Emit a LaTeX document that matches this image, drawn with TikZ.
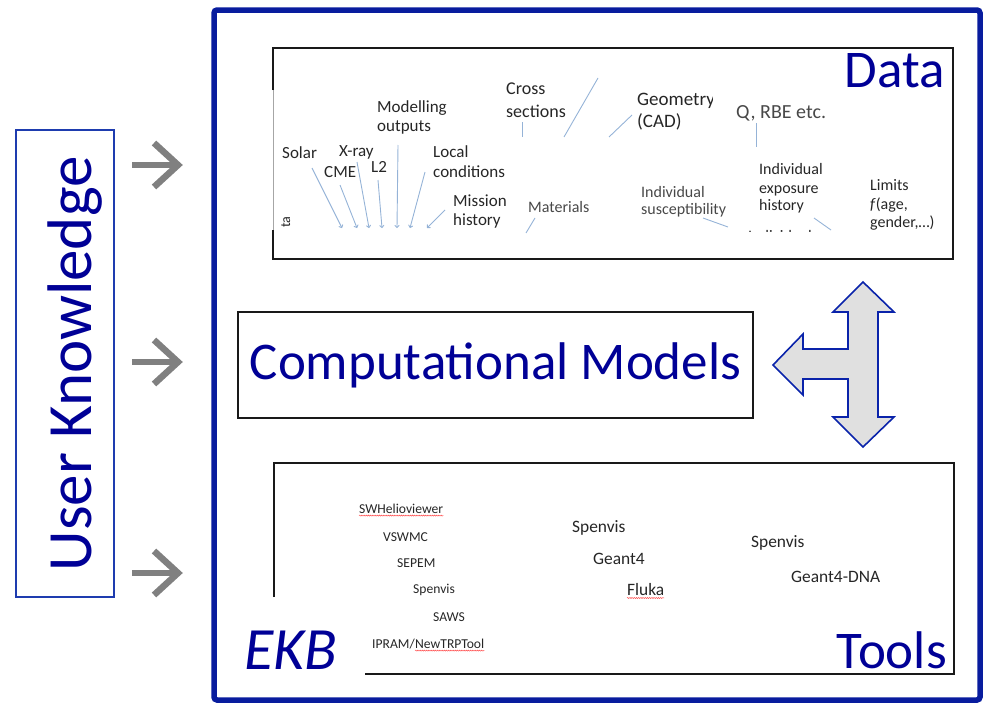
\documentclass[tikz,border=0pt]{standalone}
\usepackage{fontspec}
\setmainfont{Carlito}
\usetikzlibrary{arrows.meta,decorations.pathmorphing}
\definecolor{ekbblue}{RGB}{0,0,150}
\definecolor{frameblue}{RGB}{8,28,158}
\definecolor{ukblue}{RGB}{30,60,175}
\definecolor{arrowgray}{RGB}{128,128,128}
\definecolor{leaderblue}{RGB}{149,179,215}
\definecolor{labeldark}{RGB}{38,38,38}
\definecolor{labelgray}{RGB}{72,72,72}
\definecolor{shapefill}{RGB}{224,224,224}
\definecolor{shapeline}{RGB}{10,35,170}
\tikzset{
  bigtitle/.style={font=\fontsize{53}{60}\selectfont, text=ekbblue, inner sep=0pt},
  lbl/.style={font=\fontsize{17}{20}\selectfont, text=labeldark, inner sep=0pt, anchor=base west},
  lblsmall/.style={font=\fontsize{16}{19}\selectfont, text=labelgray, inner sep=0pt, anchor=base west},
  toolsmall/.style={font=\fontsize{13.6}{16}\selectfont, text=labeldark, inner sep=0pt, anchor=base west},
  toolbig/.style={font=\fontsize{17.4}{20}\selectfont, text=labeldark, inner sep=0pt, anchor=base west},
  leader/.style={draw=leaderblue, line width=0.9pt},
  leaderarrow/.style={leader, -{To[length=3pt,width=5pt]}},
  spell/.style={draw=red!75!white, line width=0.45pt, decorate,
    decoration={snake, amplitude=0.55pt, segment length=2.2pt}},
  boxline/.style={draw=black!90, line width=2pt},
  kshaft/.style={draw=arrowgray, line width=6.5pt, line join=miter, line cap=butt},
}
\begin{document}
\begin{tikzpicture}[x=1pt,y=-1pt]
\useasboundingbox (0,0) rectangle (983,704);

% EKB frame
\draw[draw=frameblue, line width=5.5pt, rounded corners=3pt] (214,10) rectangle (980,700);

% User knowledge box
\draw[draw=ukblue, line width=1.5pt] (16,130) rectangle (114,597);
\node[font=\fontsize{63}{70}\selectfont, text=ekbblue, inner sep=0pt, rotate=90, anchor=base]
  (uk) at (91,364) {User Knowledge};

% grey input arrows
\foreach \yy/\nm in {165/ka,362/kb,573/kc} {
  \coordinate (\nm-s) at (132,\yy);
  \coordinate (\nm-e) at (178,\yy);
  \coordinate (\nm-u) at (154,{\yy-22});
  \coordinate (\nm-d) at (154,{\yy+22});
  \draw[kshaft] (\nm-s) -- (\nm-e);
  \draw[kshaft] (\nm-u) -- (\nm-e) -- (\nm-d);
}

% Data box
\draw[boxline] (273,90) -- (273,48) -- (953,48) -- (953,259) -- (273,259) -- (273,230);
\draw[draw=black!35, line width=0.6pt] (273,90) -- (273,230);
\node[bigtitle, anchor=base east] (data) at (945,87) {Data};

\node[font=\fontsize{14}{16}\selectfont, text=labeldark, inner sep=0pt, rotate=90, anchor=base]
  (ta) at (290,222) {ta};

\node[lbl] (solar) at (282,158) {Solar};
\node[lbl] (cme) at (324,177) {CME};
\node[lbl] (xray) at (339,156) {X-ray};
\node[lbl] (ltwo) at (371,172) {L2};
\node[lbl] (model1) at (377,112) {Modelling};
\node[lbl] (model2) at (377,131) {outputs};
\node[lbl] (local1) at (433,157) {Local};
\node[lbl] (local2) at (433,177) {conditions};
\node[lbl] (miss1) at (453,206) {Mission};
\node[lbl] (miss2) at (453,225) {history};
\node[lbl, font=\fontsize{18}{21}\selectfont] (cross1) at (506,94) {Cross};
\node[lbl, font=\fontsize{18}{21}\selectfont] (cross2) at (506,117) {sections};
\node[lblsmall] (mat) at (528,212) {Materials};
\begin{scope}
  \clip (600,60) rectangle (712,140);
  \node[lbl, font=\fontsize{19}{22}\selectfont] (geo1) at (637,105) {Geometry};
\end{scope}
\node[lbl, font=\fontsize{19}{22}\selectfont] (geo2) at (637,127) {(CAD)};
\node[lbl, font=\fontsize{20}{24}\selectfont, text=labelgray] (qrbe) at (736,118) {Q, RBE etc.};
\node[lblsmall, text=labeldark] (exp1) at (759,174) {Individual};
\node[lblsmall, text=labeldark] (exp2) at (759,193) {exposure};
\node[lblsmall, text=labeldark] (exp3) at (759,210) {history};
\node[lblsmall] (sus1) at (641,197) {Individual};
\node[lblsmall] (sus2) at (641,214) {susceptibility};
\begin{scope}
  \clip (700,200) rectangle (850,231.5);
  \node[lblsmall, text=labeldark] (indcut) at (748,241) {Individual};
\end{scope}
\node[lblsmall, text=labeldark] (lim1) at (870,190) {Limits};
\node[lblsmall, text=labeldark] (lim2) at (870,209) {\textit{f}(age,};
\node[lblsmall, text=labeldark] (lim3) at (870,227) {gender,\dots)};

% leader arrows towards the data strip
\foreach \nm/\ax/\ay/\bx/\by in {solar/312/168/342/228, cme/340/185/357/228,
    xray/357/162/369/228, ltwo/378/180/382/228, model/398/145/397/228,
    local/425/172/410/228, miss/445/210/427/228} {
  \coordinate (\nm-a) at (\ax,\ay);
  \coordinate (\nm-b) at (\bx,\by);
  \draw[leaderarrow] (\nm-a) -- (\nm-b);
}
\foreach \nm/\ax/\ay/\bx/\by in {crossa/522/122/522/137, crossb/598/78/564/137,
    mata/535/218/526/233, geoa/632/115/609/137, qa/756/123/756/147,
    susa/703/218/728/227, expa/814/218/831/230} {
  \coordinate (\nm-a) at (\ax,\ay);
  \coordinate (\nm-b) at (\bx,\by);
  \draw[leader] (\nm-a) -- (\nm-b);
}

% Computational models
\node[draw=black!90, line width=2pt, minimum width=515pt, minimum height=106pt, inner sep=0pt,
  font=\fontsize{53}{60}\selectfont, text=ekbblue] (comp) at (495.5,365) {Computational Models};

% three-way arrow shape
\draw[draw=shapeline, fill=shapefill, line width=1.6pt, line join=miter]
  (863,282) -- (894,312) -- (878,312) -- (878,417) -- (894,417) -- (863,447)
  -- (833,417) -- (848,417) -- (848,379) -- (803,379) -- (803,395) -- (773,365)
  -- (803,334) -- (803,349) -- (848,349) -- (848,312) -- (833,312) -- cycle;

% Tools box
\draw[boxline] (274,597) -- (274,463) -- (954,463) -- (954,674) -- (365,674);
\node[bigtitle, anchor=base east] (tools) at (947,668) {Tools};
\node[bigtitle, font=\fontsize{60}{66}\selectfont\itshape, anchor=base west] (ekb) at (244,669) {EKB};

\node[toolsmall] (swh) at (359,513) {SWHelioviewer};
\node[toolsmall] (vswmc) at (383,541) {VSWMC};
\node[toolsmall] (sepem) at (397,567) {SEPEM};
\node[toolsmall] (spena) at (413,593) {Spenvis};
\node[toolsmall] (saws) at (433,621) {SAWS};
\node[toolsmall] (ipram) at (372,648) {IPRAM/};
\node[toolsmall] (newtrp) at (ipram.base east) {NewTRPTool};
\node[toolbig] (spenb) at (572,532) {Spenvis};
\node[toolbig] (geant) at (593,564) {Geant4};
\node[toolbig] (fluka) at (627,595) {Fluka};
\node[toolbig] (spenc) at (751,547) {Spenvis};
\node[toolbig] (gdna) at (791,582) {Geant4-DNA};

\draw[spell] ([yshift=-2.6pt]swh.base west) -- ([yshift=-2.6pt]swh.base east);
\draw[spell] ([yshift=-2.6pt]newtrp.base west) -- ([yshift=-2.6pt]newtrp.base east);
\draw[spell] ([yshift=-3pt]fluka.base west) -- ([yshift=-3pt]fluka.base east);
\end{tikzpicture}
\end{document}
